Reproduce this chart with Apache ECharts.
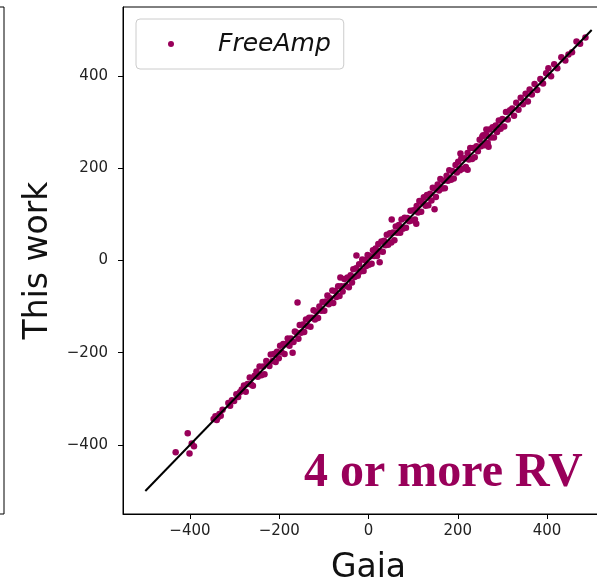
<!DOCTYPE html>
<html>
<head>
<meta charset="utf-8">
<title>FreeAmp vs Gaia radial velocities</title>
<script src="https://cdn.jsdelivr.net/npm/echarts@6.0.0/dist/echarts.min.js"></script>
<style>
  html, body { margin: 0; padding: 0; background: #fff; }
  #chart { width: 597px; height: 583px; }
</style>
</head>
<body>
<div id="chart"></div>
<script>
// Radial velocities (km/s): Gaia value vs. this work, stars with 4 or more RV epochs
const gaiaRV = [
  -432, -405, -401, -396, -391, -347, -343, -340, -337, -334,
  -331, -327, -314, -310, -306, -301, -296, -292, -288, -284,
  -279, -275, -271, -266, -263, -259, -255, -251, -248, -244,
  -240, -236, -233, -229, -226, -222, -219, -215, -212, -208,
  -205, -201, -198, -195, -191, -188, -184, -181, -177, -174,
  -170, -168, -165, -161, -159, -157, -154, -151, -147, -144,
  -140, -137, -133, -130, -127, -123, -120, -117, -113, -110,
  -106, -103, -99, -96, -92, -89, -86, -81, -79, -75,
  -72, -68, -65, -63, -61, -58, -54, -51, -47, -44,
  -40, -37, -34, -31, -28, -27, -24, -21, -18, -14,
  -11, -8, -5, -2, 1, 4, 7, 10, 13, 16,
  19, 22, 25, 26, 29, 32, 35, 38, 41, 44,
  48, 51, 52, 55, 58, 61, 64, 68, 71, 74,
  77, 81, 84, 87, 91, 94, 97, 101, 104, 107,
  108, 111, 114, 118, 121, 124, 128, 131, 134, 138,
  141, 144, 148, 148, 151, 155, 158, 161, 165, 168,
  171, 175, 178, 181, 185, 188, 191, 195, 198, 201,
  205, 206, 208, 211, 215, 218, 222, 222, 225, 228,
  232, 235, 238, 242, 245, 249, 252, 255, 257, 260,
  264, 264, 267, 269, 271, 274, 278, 281, 285, 288,
  292, 296, 300, 304, 308, 312, 317, 322, 326, 331,
  336, 341, 346, 352, 357, 361, 366, 372, 378, 385,
  391, 398, 403, 409, 416, 423, 432, 441, 448, 456,
  466, 474, 486
];
const thisWorkRV = [
  -416, -375, -419, -397, -403, -344, -338, -346, -340, -333,
  -337, -324, -309, -315, -303, -305, -290, -296, -286, -280,
  -271, -285, -268, -254, -269, -272, -250, -241, -252, -230,
  -249, -230, -247, -218, -224, -229, -204, -218, -203, -220,
  -198, -212, -185, -199, -181, -203, -181, -169, -185, -169,
  -200, -177, -154, -157, -91, -170, -140, -157, -139, -155,
  -128, -142, -124, -144, -124, -108, -128, -111, -125, -100,
  -109, -90, -109, -89, -76, -95, -82, -65, -92, -66,
  -79, -56, -77, -37, -56, -67, -40, -55, -37, -58,
  -32, -48, -19, -36, -17, 11, -33, -8, -24, 2,
  -23, 1, -12, 12, -9, 9, -7, 22, 10, 26,
  10, 36, -4, 20, 41, 19, 43, 33, 56, 34,
  59, 39, 89, 61, 44, 74, 60, 77, 60, 89,
  69, 93, 71, 92, 85, 108, 87, 109, 89, 80,
  118, 104, 129, 106, 125, 137, 119, 142, 120, 145,
  130, 158, 111, 156, 138, 165, 152, 177, 156, 173,
  157, 184, 173, 196, 175, 194, 178, 207, 191, 214,
  196, 232, 222, 199, 222, 203, 197, 233, 219, 244,
  220, 244, 224, 248, 237, 262, 248, 269, 272, 250,
  284, 273, 255, 247, 284, 267, 289, 267, 293, 279,
  304, 286, 307, 291, 322, 306, 326, 330, 314, 342,
  327, 353, 339, 362, 345, 371, 360, 383, 370, 394,
  384, 406, 417, 400, 426, 417, 441, 434, 447, 452,
  475, 470, 484
];
// One-to-one reference line end points
const identityX = [-500, 500];
const identityY = [-500, 500];
// Axis tick values
const tickValues = [-400, -200, 0, 200, 400];

const pointColor = '#99005a';
const fmt = v => String(v).replace('-', '\u2212');

const points = gaiaRV.map((g, i) => [g, thisWorkRV[i]]);
const identity = identityX.map((x, i) => [x, identityY[i]]);

const chart = echarts.init(document.getElementById('chart'), null, { renderer: 'canvas' });

const labelStyle = {
  customValues: tickValues,
  formatter: fmt,
  fontSize: 15,
  fontFamily: 'DejaVu Sans',
  color: '#222'
};
const tickStyle = { show: true, customValues: tickValues, length: 5, lineStyle: { color: '#000', width: 1 } };

chart.setOption({
  animation: false,
  backgroundColor: '#fff',
  grid: [
    { left: 123, top: 7, width: 491, height: 507, show: true, borderColor: '#000', borderWidth: 1,
      backgroundColor: 'transparent', containLabel: false, outerBoundsMode: 'none' },
    // right edge of the neighbouring panel
    { left: -200, top: 7, width: 204, height: 507, show: true, borderColor: '#000', borderWidth: 1,
      backgroundColor: 'transparent', containLabel: false, outerBoundsMode: 'none' }
  ],
  xAxis: [
    {
      gridIndex: 0, type: 'value', min: -550, max: 550,
      axisLine: { show: true, onZero: false, lineStyle: { color: '#000' } },
      axisTick: tickStyle,
      axisLabel: Object.assign({ margin: 10 }, labelStyle),
      splitLine: { show: false },
      name: 'Gaia', nameLocation: 'middle', nameGap: 38,
      nameTextStyle: { fontSize: 33, fontFamily: 'DejaVu Sans', color: '#111' }
    },
    { gridIndex: 1, type: 'value', min: 0, max: 1, show: false }
  ],
  yAxis: [
    {
      gridIndex: 0, type: 'value', min: -550, max: 550,
      axisLine: { show: true, onZero: false, lineStyle: { color: '#000' } },
      axisTick: tickStyle,
      axisLabel: Object.assign({ margin: 15 }, labelStyle),
      splitLine: { show: false },
      name: 'This work', nameLocation: 'middle', nameGap: 68, nameRotate: 90,
      nameTextStyle: { fontSize: 33, fontFamily: 'DejaVu Sans', color: '#111' }
    },
    { gridIndex: 1, type: 'value', min: 0, max: 1, show: false }
  ],
  legend: {
    data: ['FreeAmp'],
    left: 136, top: 19,
    padding: [11, 13, 11, 32],
    icon: 'circle',
    itemWidth: 6, itemHeight: 6,
    backgroundColor: '#fff',
    borderColor: '#ccc', borderWidth: 1, borderRadius: 4,
    textStyle: {
      fontSize: 25, fontStyle: 'italic', fontFamily: 'DejaVu Sans',
      color: '#111', lineHeight: 28, padding: [0, 0, 0, 39]
    }
  },
  series: [
    {
      name: 'FreeAmp', type: 'scatter', xAxisIndex: 0, yAxisIndex: 0,
      data: points, symbolSize: 6.5,
      itemStyle: { color: pointColor, opacity: 1 },
      z: 2
    },
    {
      name: 'identity', type: 'line', xAxisIndex: 0, yAxisIndex: 0,
      data: identity, symbol: 'none', silent: true,
      lineStyle: { color: '#000', width: 2 },
      z: 3
    }
  ],
  graphic: [
    {
      type: 'text', left: 304, top: 450, z: 10,
      style: {
        text: '4 or more RV',
        font: 'bold 48px "Liberation Serif", "DejaVu Serif", serif',
        fill: pointColor
      }
    }
  ]
});
</script>
</body>
</html>
